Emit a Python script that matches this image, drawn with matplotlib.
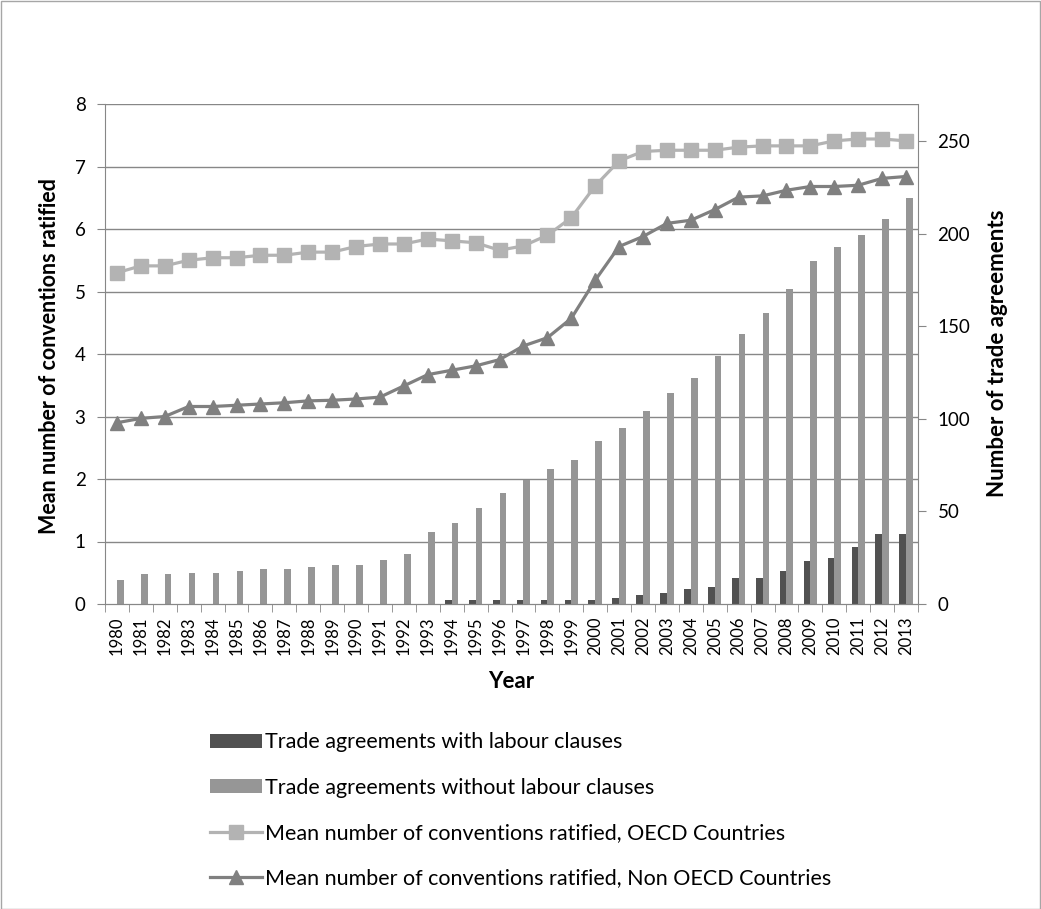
import matplotlib
matplotlib.use("Agg")
import matplotlib.pyplot as plt
from matplotlib.patches import Rectangle, Patch
from matplotlib.lines import Line2D
import numpy as np

plt.rcParams['font.family'] = ['Lato', 'DejaVu Sans']

# ---- data ----
years = [str(y) for y in range(1980, 2014)]
with_labour = [0, 0, 0, 0, 0, 0, 0, 0, 0, 0, 0, 0, 0, 0,
               2, 2, 2, 2, 2, 2, 2, 3, 5, 6, 8, 9, 14, 14, 18, 23, 25, 31, 38, 38]
without_labour = [13, 16, 16, 17, 17, 18, 19, 19, 20, 21, 21, 24, 27, 39,
                  44, 52, 60, 67, 73, 78, 88, 95, 104, 114, 122, 134, 146, 157,
                  170, 185, 193, 199, 208, 219]
oecd = [5.30, 5.41, 5.41, 5.50, 5.54, 5.54, 5.58, 5.58, 5.63, 5.63, 5.72, 5.76,
        5.76, 5.84, 5.81, 5.78, 5.66, 5.73, 5.90, 6.18, 6.69, 7.09, 7.24, 7.26,
        7.26, 7.26, 7.31, 7.33, 7.33, 7.33, 7.41, 7.44, 7.44, 7.41]
non_oecd = [2.90, 2.97, 3.00, 3.16, 3.16, 3.18, 3.20, 3.22, 3.25, 3.26, 3.28, 3.31,
            3.49, 3.67, 3.74, 3.81, 3.91, 4.13, 4.26, 4.57, 5.18, 5.72, 5.88, 6.09,
            6.14, 6.31, 6.51, 6.53, 6.62, 6.68, 6.68, 6.70, 6.81, 6.84]

# colours
C_DARK = '#515151'
C_BAR = '#969696'
C_OECD = '#B3B3B3'
C_NON = '#808080'
C_AXIS = '#878787'

W, H = 1041, 909
fig = plt.figure(figsize=(W / 100, H / 100), dpi=100)
fig.patch.set_facecolor('white')

rect = [105 / W, 1 - 604 / H, (918 - 105) / W, (604 - 104) / H]
ax2 = fig.add_axes(rect)          # bars, right axis (drawn below)
ax = ax2.twinx()                  # lines, left axis (drawn on top)
ax.yaxis.tick_left()
ax2.yaxis.tick_right()

x = np.arange(len(years))
bw = 0.28

# ---- bars on the right axis ----
ax2.set_ylim(0, 270)
ax2.set_yticks(range(0, 251, 50))
for v in range(1, 9):
    ax2.axhline(v * 270 / 8, color=C_AXIS, lw=1.0, zorder=0)
ax2.bar(x - bw / 2, with_labour, bw, color=C_DARK, zorder=2)
ax2.bar(x + bw / 2, without_labour, bw, color=C_BAR, zorder=2)

# ---- lines on the left axis ----
ax.set_ylim(0, 8)
ax.set_yticks(range(0, 9))
ax.plot(x, oecd, color=C_OECD, lw=2.3, marker='s', ms=9.5, zorder=3)
ax.plot(x, non_oecd, color=C_NON, lw=2.3, marker='^', ms=10, zorder=3)
ax.set_zorder(ax2.get_zorder() + 1)
ax.patch.set_visible(False)

for a in (ax, ax2):
    a.set_xlim(-0.5, len(years) - 0.5)
    a.spines['top'].set_visible(False)
    for s in ('left', 'right', 'bottom'):
        a.spines[s].set_color(C_AXIS)

ax.spines['right'].set_visible(False)
ax2.spines['left'].set_visible(False)

ax.tick_params(axis='y', which='major', length=6, color=C_AXIS,
               labelsize=13.5, pad=8, direction='out')
ax2.tick_params(axis='y', which='major', length=6, color=C_AXIS,
                labelsize=13.5, pad=8, direction='out')

ax2.set_xticks(x)
ax2.set_xticklabels(years, rotation=90, fontsize=12)
ax2.set_xticks(np.arange(-0.5, len(years)), minor=True)
ax2.tick_params(axis='x', which='major', length=0, pad=9)
ax2.tick_params(axis='x', which='minor', length=6, color=C_AXIS)
ax.tick_params(axis='x', which='both', bottom=False, labelbottom=False)

# axis titles
fig.text(50 / W, 1 - 356 / H, 'Mean number of conventions ratified',
         fontsize=15.5, fontweight='bold', rotation=90, ha='center', va='center')
fig.text(997 / W, 1 - 353 / H, 'Number of trade agreements',
         fontsize=16, fontweight='bold', rotation=90, ha='center', va='center')
fig.text(511 / W, 1 - 681 / H, 'Year',
         fontsize=16, fontweight='bold', ha='center', va='center')

# ---- legend ----
handles = [
    Patch(facecolor=C_DARK, edgecolor='none'),
    Patch(facecolor=C_BAR, edgecolor='none'),
    Line2D([0], [0], color=C_OECD, lw=2.3, marker='s', ms=9.5),
    Line2D([0], [0], color=C_NON, lw=2.3, marker='^', ms=10),
]
labels = ['Trade agreements with labour clauses',
          'Trade agreements without labour clauses',
          'Mean number of conventions ratified, OECD Countries',
          'Mean number of conventions ratified, Non OECD Countries']
fig.legend(handles, labels, loc='upper left',
           bbox_to_anchor=(191 / W, 1 - 713 / H), frameon=False,
           fontsize=15.5, handlelength=2.4, handleheight=0.6,
           handletextpad=0.12, labelspacing=1.18)

# outer border
fig.add_artist(Rectangle((0.5 / W, 0.5 / H), (W - 1.5) / W, (H - 1.5) / H,
                         transform=fig.transFigure, fill=False,
                         edgecolor='#A6A6A6', lw=1.0))

fig.savefig('out.png', dpi=100, facecolor='white')
